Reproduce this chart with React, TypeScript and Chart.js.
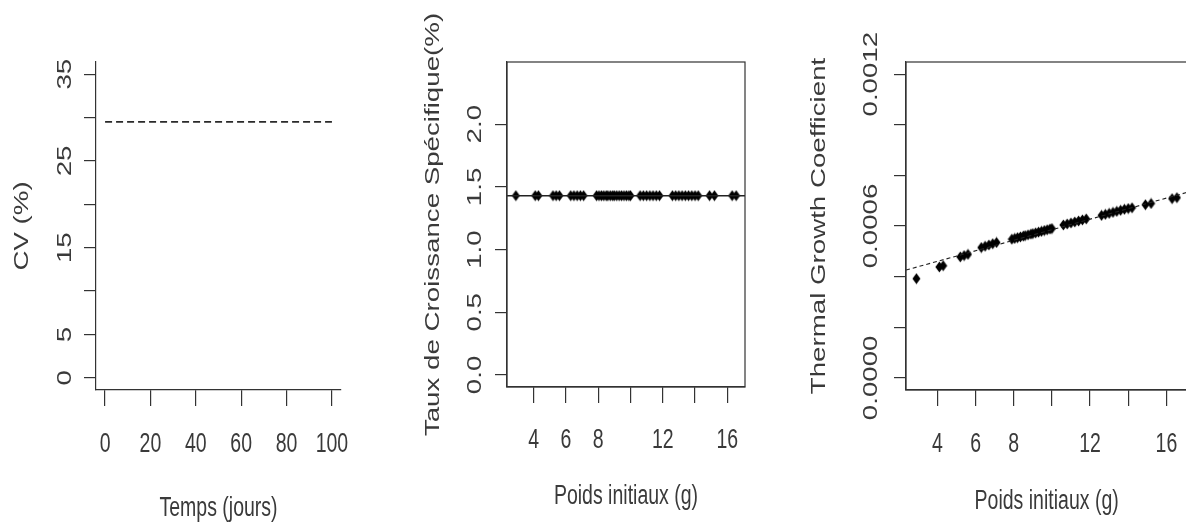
import React, { useEffect, useRef } from 'react';
import { Chart, registerables } from 'chart.js';

Chart.register(...registerables);

// ---------- Panel 1 : CV over time ----------
const cvDays = [0, 100];
const cvValues = [29.5, 29.5];
const cvXTicks = [0, 20, 40, 60, 80, 100];
const cvXLabels = ['0', '20', '40', '60', '80', '100'];
const cvYTicks = [0, 5, 10, 15, 20, 25, 30, 35];
const cvYLabels = ['0', '5', '', '15', '', '25', '', '35'];

// ---------- Panels 2 & 3 : initial weights ----------
const weights = [
  2.9, 4.1, 4.3, 5.2, 5.4, 5.6, 6.3, 6.5, 6.7, 6.9, 7.1,
  7.9, 8.05, 8.2, 8.35, 8.5, 8.6, 8.75, 8.9, 9.0, 9.15, 9.3, 9.45, 9.6, 9.75, 9.9, 10.0,
  10.6, 10.8, 11.0, 11.2, 11.4, 11.6, 11.8,
  12.6, 12.8, 13.0, 13.2, 13.4, 13.6, 13.8, 14.0, 14.2,
  14.9, 15.2, 16.3, 16.55,
];
const sgr = [
  1.43, 1.43, 1.43, 1.43, 1.43, 1.43, 1.43, 1.43, 1.43, 1.43, 1.43,
  1.43, 1.43, 1.43, 1.43, 1.43, 1.43, 1.43, 1.43, 1.43, 1.43, 1.43, 1.43, 1.43, 1.43, 1.43, 1.43,
  1.43, 1.43, 1.43, 1.43, 1.43, 1.43, 1.43,
  1.43, 1.43, 1.43, 1.43, 1.43, 1.43, 1.43, 1.43, 1.43,
  1.43, 1.43, 1.43, 1.43,
];
const sgrLineValues = [1.43, 1.43];
const tgc = [
  0.000392, 0.000438, 0.000443, 0.000478, 0.000483, 0.000488, 0.000515, 0.00052, 0.000525, 0.00053, 0.000535,
  0.000548, 0.000551, 0.000554, 0.000557, 0.00056, 0.000562, 0.000565, 0.000568, 0.00057, 0.000573, 0.000576, 0.000579, 0.000582, 0.000585, 0.000588, 0.00059,
  0.000604, 0.000608, 0.000612, 0.000616, 0.00062, 0.000624, 0.000628,
  0.000642, 0.000646, 0.00065, 0.000654, 0.000658, 0.000662, 0.000666, 0.000669, 0.000672,
  0.000684, 0.000689, 0.000708, 0.000712,
];
const tgcFitValues = [0.000426, 0.000733];
const weightXTicks = [4, 6, 8, 10, 12, 14, 16];
const weightXLabels = ['4', '6', '8', '', '12', '', '16'];
const sgrYTicks = [0, 0.5, 1, 1.5, 2];
const sgrYLabels = ['0.0', '0.5', '1.0', '1.5', '2.0'];
const tgcYTicks = [0, 0.0002, 0.0004, 0.0006, 0.0008, 0.001, 0.0012];
const tgcYLabels = ['0.0000', '', '', '0.0006', '', '', '0.0012'];

// axis limits (R-style 4% padding)
const cvXLim = [-4, 104];
const cvYLim = [-1.4, 36.4];
const wXLim = [2.354, 17.096];
const sgrYLim = [-0.096, 2.496];
const tgcYLim = [-0.000048, 0.001248];

const INK = '#3a3a3a';
const AXIS = '#333';
const FONT_PX = 19.5;
const STRETCH = 1.42;
const FONT = `${FONT_PX}px "Liberation Sans", Arial, sans-serif`;

function drawH(ctx: CanvasRenderingContext2D, text: string, x: number, y: number) {
  ctx.save();
  ctx.translate(x, y);
  ctx.scale(1, STRETCH);
  ctx.textAlign = 'center';
  ctx.textBaseline = 'alphabetic';
  ctx.fillText(text, 0, 0);
  ctx.restore();
}
function drawV(ctx: CanvasRenderingContext2D, text: string, x: number, y: number) {
  ctx.save();
  ctx.translate(x, y);
  ctx.rotate(-Math.PI / 2);
  ctx.scale(STRETCH, 1);
  ctx.textAlign = 'center';
  ctx.textBaseline = 'alphabetic';
  ctx.fillText(text, 0, 0);
  ctx.restore();
}

const rTextPlugin = {
  id: 'rText',
  afterDraw(chart: any, _args: any, o: any) {
    const ctx: CanvasRenderingContext2D = chart.ctx;
    const a = chart.chartArea;
    const xs = chart.scales.x;
    const ys = chart.scales.y;
    ctx.save();
    if (o.box) {
      ctx.strokeStyle = AXIS;
      ctx.lineWidth = 1.2;
      ctx.strokeRect(a.left, a.top, a.right - a.left, a.bottom - a.top);
    }
    ctx.fillStyle = INK;
    ctx.font = FONT;
    o.xTicks.forEach((v: number, i: number) => {
      const lab = o.xLabels[i];
      if (lab) drawH(ctx, lab, xs.getPixelForValue(v), a.bottom + o.xLabelOff);
    });
    o.yTicks.forEach((v: number, i: number) => {
      const lab = o.yLabels[i];
      if (lab) drawV(ctx, lab, a.left - o.yLabelOff, ys.getPixelForValue(v));
    });
    drawH(ctx, o.xTitle, (a.left + a.right) / 2, a.bottom + o.xTitleOff);
    drawV(ctx, o.yTitle, a.left - o.yTitleOff, (a.top + a.bottom) / 2);
    ctx.restore();
  },
};

function makeOptions(p: any) {
  const tickSetter = (vals: number[]) => (scale: any) => {
    scale.ticks = vals.map((v) => ({ value: v }));
  };
  return {
    animation: false,
    responsive: false,
    maintainAspectRatio: false,
    events: [],
    layout: { padding: { left: 0, top: p.top, right: p.right, bottom: 0 } },
    plugins: {
      legend: { display: false },
      tooltip: { enabled: false },
      rText: p.text,
    },
    scales: {
      x: {
        type: 'linear',
        min: p.xLim[0],
        max: p.xLim[1],
        afterBuildTicks: tickSetter(p.text.xTicks),
        afterFit: (s: any) => { s.height = p.xAxisH; },
        ticks: { display: false },
        grid: { display: true, drawOnChartArea: false, drawTicks: true, tickLength: 16, color: AXIS, lineWidth: 1.2 },
        border: { display: true, color: AXIS, width: 1.2 },
      },
      y: {
        type: 'linear',
        min: p.yLim[0],
        max: p.yLim[1],
        afterBuildTicks: tickSetter(p.text.yTicks),
        afterFit: (s: any) => { s.width = p.yAxisW; },
        ticks: { display: false },
        grid: { display: true, drawOnChartArea: false, drawTicks: true, tickLength: 12, color: AXIS, lineWidth: 1.2 },
        border: { display: true, color: AXIS, width: 1.2 },
      },
    },
  };
}

function diamond(): HTMLCanvasElement {
  const c = document.createElement('canvas');
  c.width = 9;
  c.height = 12;
  const g = c.getContext('2d')!;
  g.fillStyle = '#000';
  g.beginPath();
  g.moveTo(4.5, 0.5);
  g.lineTo(8.5, 6);
  g.lineTo(4.5, 11.5);
  g.lineTo(0.5, 6);
  g.closePath();
  g.fill();
  return c;
}

export default function App() {
  const r1 = useRef<HTMLCanvasElement>(null);
  const r2 = useRef<HTMLCanvasElement>(null);
  const r3 = useRef<HTMLCanvasElement>(null);

  useEffect(() => {
    const pt = diamond();

    const c1 = new Chart(r1.current!, {
      type: 'scatter',
      data: {
        datasets: [
          {
            data: cvDays.map((d, i) => ({ x: d, y: cvValues[i] })),
            showLine: true,
            borderColor: '#2a2a2a',
            borderWidth: 1.6,
            borderDash: [7, 4],
            pointRadius: 0,
          },
        ],
      },
      options: makeOptions({
        top: 62, right: 59, xAxisH: 532 - 390, yAxisW: 96,
        xLim: cvXLim, yLim: cvYLim,
        text: {
          xTicks: cvXTicks, xLabels: cvXLabels, yTicks: cvYTicks, yLabels: cvYLabels,
          xTitle: 'Temps (jours)', yTitle: 'CV (%)',
          xLabelOff: 61.5, xTitleOff: 126, yLabelOff: 25.3, yTitleOff: 68.4, box: false,
        },
      }) as any,
      plugins: [rTextPlugin],
    });

    const c2 = new Chart(r2.current!, {
      type: 'scatter',
      data: {
        datasets: [
          {
            data: wXLim.map((w, i) => ({ x: w, y: sgrLineValues[i] })),
            showLine: true,
            borderColor: '#222',
            borderWidth: 1.5,
            pointRadius: 0,
          },
          {
            data: weights.map((w, i) => ({ x: w, y: sgr[i] })),
            pointStyle: pt,
            pointRadius: 5,
            backgroundColor: '#000',
            borderColor: '#000',
          },
        ],
      },
      options: makeOptions({
        top: 62, right: 45, xAxisH: 532 - 387, yAxisW: 107,
        xLim: wXLim, yLim: sgrYLim,
        text: {
          xTicks: weightXTicks, xLabels: weightXLabels, yTicks: sgrYTicks, yLabels: sgrYLabels,
          xTitle: 'Poids initiaux (g)', yTitle: 'Taux de Croissance Spécifique(%)',
          xLabelOff: 61, xTitleOff: 117, yLabelOff: 26.3, yTitleOff: 67.8, box: true,
        },
      }) as any,
      plugins: [rTextPlugin],
    });

    const c3 = new Chart(r3.current!, {
      type: 'scatter',
      data: {
        datasets: [
          {
            data: wXLim.map((w, i) => ({ x: w, y: tgcFitValues[i] })),
            showLine: true,
            borderColor: '#222',
            borderWidth: 1.1,
            borderDash: [4, 3],
            pointRadius: 0,
          },
          {
            data: weights.map((w, i) => ({ x: w, y: tgc[i] })),
            pointStyle: pt,
            pointRadius: 5,
            backgroundColor: '#000',
            borderColor: '#000',
          },
        ],
      },
      options: makeOptions({
        top: 62, right: 420 - 397.3, xAxisH: 532 - 390, yAxisW: 116,
        xLim: wXLim, yLim: tgcYLim,
        text: {
          xTicks: weightXTicks, xLabels: weightXLabels, yTicks: tgcYTicks, yLabels: tgcYLabels,
          xTitle: 'Poids initiaux (g)', yTitle: 'Thermal Growth Coefficient',
          xLabelOff: 61.7, xTitleOff: 119, yLabelOff: 28.7, yTitleOff: 81, box: true,
        },
      }) as any,
      plugins: [rTextPlugin],
    });

    return () => {
      c1.destroy();
      c2.destroy();
      c3.destroy();
    };
  }, []);

  const cs = (left: number, width: number): React.CSSProperties => ({
    position: 'absolute', left, top: 0, width, height: 532, display: 'block',
  });

  return (
    <div style={{ position: 'fixed', left: 0, top: 0, width: 1186, height: 532, overflow: 'hidden', background: '#fff' }}>
      <canvas ref={r1} width={400} height={532} style={cs(0, 400)} />
      <canvas ref={r2} width={390} height={532} style={cs(400, 390)} />
      <canvas ref={r3} width={420} height={532} style={cs(790, 420)} />
    </div>
  );
}
